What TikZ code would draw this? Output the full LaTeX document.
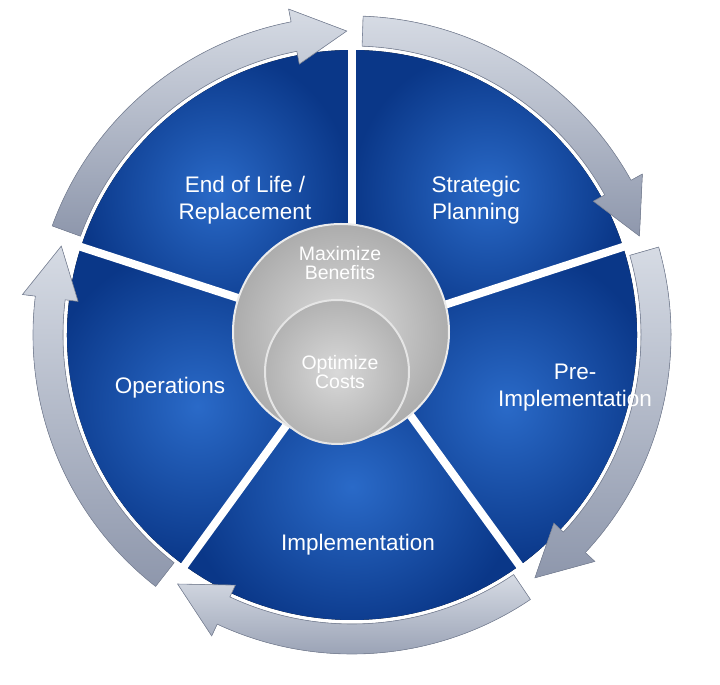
\documentclass[tikz,border=0pt]{standalone}
\usepackage{fontspec}
\setmainfont{Liberation Sans}
\usetikzlibrary{calc}
\definecolor{sectorin}{HTML}{2A6AC8}
\definecolor{sectorout}{HTML}{0A3788}
\definecolor{ringline}{HTML}{7F889C}
\definecolor{ringlight}{HTML}{D6DBE4}
\definecolor{ringdark}{HTML}{8E97AC}
\tikzset{
  sector/.style={inner color=sectorin, outer color=sectorout},
  gapline/.style={white, line width=8pt},
  ringarrow/.style={top color=ringlight, bottom color=ringdark, draw=ringline, line width=0.6pt},
  label/.style={white, font=\fontsize{22.5}{27}\selectfont, align=center},
  hublabel/.style={white, font=\fontsize{19.5}{19}\selectfont, align=center}
}
\begin{document}
\begin{tikzpicture}[x=1pt,y=1pt]
	\useasboundingbox (0,0) rectangle (720,685);
	\coordinate (c) at (352,350);
	
	% blue sectors
	\foreach \g in {162,90,18,-54,-126}
	\fill[sector] (c) -- ($(c)+(\g:285pt)$) arc[start angle=\g, end angle=\g-72, radius=285pt] -- cycle;
	
	% white gaps between sectors
	\foreach \g [count=\i] in {162,90,18,-54,-126}{
	\coordinate (gap\i) at ($(c)+(\g:300pt)$);
	\draw[gapline] (c) -- (gap\i);
	}
	
	% arrows round the ring
	\foreach \a in {160,88,16,-56,-128}{
	\pgfmathsetmacro{\b}{\a-69}
	\pgfmathsetmacro{\h}{\b+10}
	\fill[ringarrow] ($(c)+(\a:289pt)$) arc[start angle=\a, end angle=\h, radius=289pt]
	-- ($(c)+(\h:276pt)$) -- ($(c)+(\b:304pt)$) -- ($(c)+(\h:332pt)$)
	-- ($(c)+(\h:319pt)$) arc[start angle=\h, end angle=\a, radius=319pt] -- cycle;
	}
	
	% hub circles
	\node[circle, minimum size=216pt, inner color=gray!25, outer color=gray!65, draw=white!85!gray, line width=2pt] (benefits) at (341,353) {};
	\node[circle, minimum size=144pt, inner color=gray!30, outer color=gray!60, draw=white!80!gray, line width=2pt] (costs) at (337,313) {};
	
	% labels
	\node[hublabel] (benefitstext) at (340,422) {Maximize\\Benefits};
	\node[hublabel] (coststext) at (340,313) {Optimize\\Costs};
	\node[label] (endlife) at (245,485) {End of Life /\\Replacement};
	\node[label] (strategic) at (476,485) {Strategic\\Planning};
	\node[label] (preimpl) at (575,297) {Pre-\\Implementation};
	\node[label] (impl) at (358,140) {Implementation};
	\node[label] (ops) at (170,297) {Operations};
\end{tikzpicture}
\end{document}
